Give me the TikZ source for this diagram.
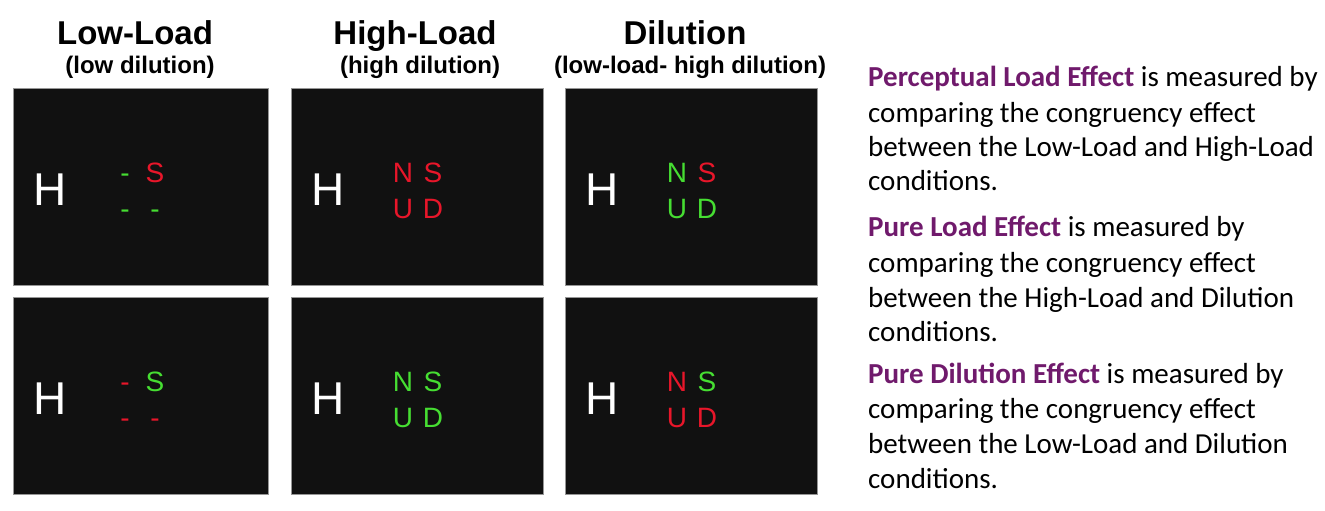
\documentclass[tikz,border=0pt]{standalone}
\usepackage{fontspec}
\setmainfont{Liberation Sans}
\newfontfamily\carlito{Carlito}
\definecolor{scr}{RGB}{17,17,17}
\definecolor{scredge}{RGB}{150,150,150}
\definecolor{rd}{RGB}{232,22,42}
\definecolor{gr}{RGB}{70,222,50}
\definecolor{pur}{RGB}{112,26,108}
\newcommand\panel[8]{%
  \node[screen, minimum width=#4, anchor=north west] (#1) at (#2,#3) {};
  \node[bigH] (#1H) at ([shift={(37,102)}]#1.north west) {H};
  \node[ltr] (#1a) at ([shift={(112,94)}]#1.north west) {#5};
  \node[ltr] (#1b) at ([shift={(142,94)}]#1.north west) {#6};
  \node[ltr] (#1c) at ([shift={(112,130)}]#1.north west) {#7};
  \node[ltr] (#1d) at ([shift={(142,130)}]#1.north west) {#8};
}
\begin{document}
\begin{tikzpicture}[x=1pt,y=-1pt,
  screen/.style={draw=scredge, line width=0.8pt, fill=scr, minimum height=197pt, inner sep=0},
  ltr/.style={font=\fontsize{28}{30}\selectfont, anchor=base, inner sep=0},
  bigH/.style={font=\fontsize{46}{50}\selectfont, text=white, anchor=center, inner sep=0},
  title/.style={font=\bfseries\fontsize{33}{36}\selectfont, anchor=base, inner sep=0},
  sub/.style={font=\bfseries\fontsize{24}{26}\selectfont, anchor=base, inner sep=0},
  desc/.style={font=\carlito\fontsize{29}{35}\selectfont, anchor=base west, inner sep=0},
  hl/.style={}]
\useasboundingbox[fill=white] (0,0) rectangle (1325,511);

% headings
\node[title] (t1) at (135,44.5) {Low-Load};
\node[sub] (u1) at (140,74) {(low dilution)};
\node[title] (t2) at (415,44.5) {High-Load};
\node[sub] (u2) at (420,74) {(high dilution)};
\node[title] (t3) at (685,44.5) {Dilution};
\node[sub] (u3) at (690,74) {(low-load- high dilution)};

% top row
\panel{p11}{13}{88}{255pt}{\textcolor{gr}{-}}{\textcolor{rd}{S}}{\textcolor{gr}{-}}{\textcolor{gr}{-}}
\panel{p12}{291}{88}{252pt}{\textcolor{rd}{N}}{\textcolor{rd}{S}}{\textcolor{rd}{U}}{\textcolor{rd}{D}}
\panel{p13}{565}{88}{252pt}{\textcolor{gr}{N}}{\textcolor{rd}{S}}{\textcolor{gr}{U}}{\textcolor{gr}{D}}
% bottom row
\panel{p21}{13}{297}{255pt}{\textcolor{rd}{-}}{\textcolor{gr}{S}}{\textcolor{rd}{-}}{\textcolor{rd}{-}}
\panel{p22}{291}{297}{252pt}{\textcolor{gr}{N}}{\textcolor{gr}{S}}{\textcolor{gr}{U}}{\textcolor{gr}{D}}
\panel{p23}{565}{297}{252pt}{\textcolor{rd}{N}}{\textcolor{gr}{S}}{\textcolor{rd}{U}}{\textcolor{rd}{D}}

% descriptions
\node[desc] (d11) at (868,86) {{\bfseries\color{pur}Perceptual Load Effect} is measured by};
\node[desc] (d12) at (868,122) {comparing the congruency effect};
\node[desc] (d13) at (868,156) {between the Low-Load and High-Load};
\node[desc] (d14) at (868,190) {conditions.};
\node[desc] (d21) at (868,236) {{\bfseries\color{pur}Pure Load Effect} is measured by};
\node[desc] (d22) at (868,272) {comparing the congruency effect};
\node[desc] (d23) at (868,307) {between the High-Load and Dilution};
\node[desc] (d24) at (868,341) {conditions.};
\node[desc] (d31) at (868,383) {{\bfseries\color{pur}Pure Dilution Effect} is measured by};
\node[desc] (d32) at (868,418) {comparing the congruency effect};
\node[desc] (d33) at (868,453) {between the Low-Load and Dilution};
\node[desc] (d34) at (868,488) {conditions.};
\end{tikzpicture}
\end{document}
